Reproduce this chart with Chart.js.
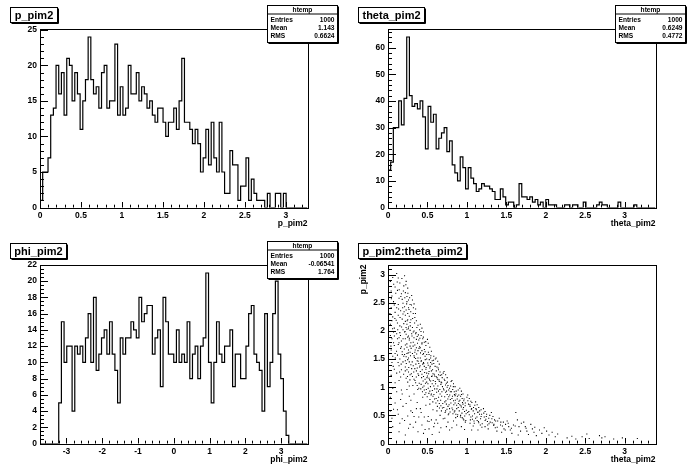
<!DOCTYPE html>
<html>
<head>
<meta charset="utf-8">
<script src="https://cdn.jsdelivr.net/npm/chart.js@4.4.1/dist/chart.umd.min.js"></script>
<style>
  html, body { margin: 0; padding: 0; background: #fff; }
  #wrap { position: relative; width: 696px; height: 472px; }
  #wrap canvas { position: absolute; }
</style>
</head>
<body>
<div id="wrap">
  <canvas id="pPad" width="348" height="236" style="left:0;top:0"></canvas>
  <canvas id="thetaPad" width="348" height="236" style="left:348px;top:0"></canvas>
  <canvas id="phiPad" width="348" height="236" style="left:0;top:236px"></canvas>
  <canvas id="scatterPad" width="348" height="236" style="left:348px;top:236px"></canvas>
</div>
<script>
// p_pim2 histogram, 100 bins
const pRange = [0, 3.265];
const pCounts = [
  1, 5, 5, 7, 13, 14, 20, 16, 19, 13,
  21, 20, 15, 19, 16, 11, 15, 18, 24, 18,
  16, 17, 14, 19, 20, 14, 15, 15, 23, 13,
  17, 13, 14, 20, 16, 16, 19, 15, 17, 16,
  14, 15, 13, 12, 14, 14, 12, 10, 12, 12,
  14, 11, 15, 21, 12, 12, 11, 9, 11, 9,
  5, 7, 11, 6, 12, 7, 5, 12, 5, 2,
  2, 8, 6, 6, 1, 3, 3, 7, 1, 4,
  2, 1, 1, 1, 0, 2, 0, 0, 2, 2,
  0, 2, 0, 0, 0, 0, 0, 0, 0, 0
];
const pTicks = [0, 0.5, 1, 1.5, 2, 2.5, 3];
const pCountTicks = [0, 5, 10, 15, 20, 25];
const pStats = ['1000', '1.143', '0.6624'];

// theta_pim2 histogram, 100 bins
const thetaRange = [0, 3.39];
const thetaCounts = [
  14, 17, 30, 30, 40, 31, 41, 64, 42, 38,
  39, 37, 40, 34, 22, 38, 32, 35, 22, 26,
  28, 30, 21, 25, 16, 13, 10, 19, 15, 7,
  15, 11, 9, 6, 7, 9, 8, 8, 7, 6,
  3, 3, 7, 4, 1, 2, 2, 0, 1, 9,
  4, 4, 3, 4, 2, 3, 1, 2, 0, 3,
  1, 1, 1, 0, 0, 0, 1, 1, 0, 1,
  1, 0, 0, 2, 0, 0, 0, 0, 1, 2,
  1, 1, 0, 0, 0, 0, 2, 0, 0, 0,
  0, 0, 1, 0, 0, 0, 0, 0, 0, 0
];
const thetaTicks = [0, 0.5, 1, 1.5, 2, 2.5, 3];
const thetaCountTicks = [0, 10, 20, 30, 40, 50, 60];
const thetaStats = ['1000', '0.6249', '0.4772'];

// phi_pim2 histogram, 100 bins
const phiRange = [-3.74, 3.74];
const phiCounts = [
  0, 0, 0, 0, 0, 0, 0, 5, 15, 10,
  12, 12, 4, 12, 11, 12, 10, 13, 16, 10,
  18, 9, 11, 13, 14, 11, 15, 11, 9, 5,
  13, 11, 13, 13, 15, 14, 13, 18, 15, 16,
  17, 17, 11, 13, 14, 7, 18, 15, 11, 11,
  10, 14, 10, 11, 10, 15, 8, 11, 12, 8,
  12, 13, 21, 10, 5, 10, 15, 11, 10, 12,
  12, 14, 7, 11, 11, 8, 8, 12, 16, 17,
  11, 10, 9, 4, 16, 7, 10, 16, 20, 11,
  8, 4, 1, 0, 0, 0, 0, 0, 0, 0
];
const phiTicks = [-3, -2, -1, 0, 1, 2, 3];
const phiCountTicks = [0, 2, 4, 6, 8, 10, 12, 14, 16, 18, 20, 22];
const phiStats = ['1000', '-0.06541', '1.764'];

// p_pim2 vs theta_pim2 scatter, [theta, p]
const scatterRangeX = [0, 3.39];
const scatterRangeY = [0, 3.18];
const scatterPoints = [
  [0.03,2.88],[0.05,2.62],[0.04,2.41],[0.06,2.25],[0.03,2.12],[0.07,1.98],[0.05,1.86],[0.08,1.74],[0.04,1.66],[0.06,1.55],
  [0.09,2.78],[0.07,2.52],[0.09,2.33],[0.08,2.05],[0.03,1.92],[0.05,1.44],[0.04,1.21],[0.06,0.98],[0.03,0.82],[0.07,0.61],
  [0.05,0.45],[0.08,1.32],[0.09,1.08],[0.06,2.95],[0.08,2.46],[0.04,2.71],[0.07,1.79],[0.09,1.6],[0.05,2.18],[0.06,0.3],
  [0.11,3.02],[0.13,2.94],[0.15,2.85],[0.12,2.72],[0.17,2.66],[0.14,2.58],[0.19,2.49],[0.11,2.41],[0.16,2.36],[0.13,2.28],
  [0.18,2.21],[0.12,2.14],[0.15,2.09],[0.19,2.02],[0.11,1.95],[0.14,1.88],[0.17,1.82],[0.13,1.76],[0.16,1.69],[0.18,1.63],
  [0.12,1.57],[0.15,1.5],[0.19,1.45],[0.14,1.38],[0.17,1.31],[0.11,1.25],[0.16,1.18],[0.18,2.56],[0.13,2.47],[0.19,2.3],
  [0.15,1.97],[0.12,1.86],[0.17,1.72],[0.14,1.12],[0.11,0.92],[0.16,0.78],[0.19,0.66],[0.13,0.52],[0.18,0.44],[0.15,0.36],
  [0.12,0.6],[0.17,0.95],[0.2,2.8],[0.2,2.13],[0.2,1.55],
  [0.21,2.98],[0.23,2.88],[0.25,2.76],[0.22,2.68],[0.24,2.61],[0.26,2.55],[0.28,2.47],[0.21,2.43],[0.23,2.37],[0.25,2.31],
  [0.27,2.26],[0.29,2.2],[0.22,2.17],[0.24,2.12],[0.26,2.07],[0.28,2.01],[0.21,1.98],[0.23,1.94],[0.25,1.89],[0.27,1.84],
  [0.29,1.79],[0.22,1.75],[0.24,1.71],[0.26,1.66],[0.28,1.62],[0.21,1.58],[0.23,1.54],[0.25,1.49],[0.27,1.45],[0.29,1.4],
  [0.22,1.36],[0.24,1.31],[0.26,1.27],[0.28,1.22],[0.23,1.16],[0.25,1.09],[0.27,1.02],[0.24,2.52],[0.26,2.41],[0.22,2.28],
  [0.28,2.15],[0.24,2.03],[0.26,1.91],[0.22,1.86],[0.28,1.73],[0.24,1.6],[0.26,1.52],[0.22,1.47],[0.24,0.96],[0.27,0.84],
  [0.23,0.71],[0.29,0.58],[0.25,0.49],[0.21,0.41],[0.28,0.34],[0.26,0.27],[0.3,2.63],[0.3,1.95],[0.3,1.33],[0.25,2.2],
  [0.31,2.55],[0.33,2.48],[0.35,2.39],[0.32,2.31],[0.34,2.24],[0.36,2.18],[0.38,2.1],[0.31,2.06],[0.33,2.0],[0.35,1.95],
  [0.37,1.9],[0.39,1.84],[0.32,1.8],[0.34,1.75],[0.36,1.7],[0.38,1.65],[0.31,1.6],[0.33,1.56],[0.35,1.51],[0.37,1.47],
  [0.39,1.42],[0.32,1.38],[0.34,1.33],[0.36,1.29],[0.38,1.24],[0.31,1.19],[0.33,1.14],[0.35,1.08],[0.37,1.03],[0.39,0.98],
  [0.36,1.85],[0.34,1.62],[0.38,1.52],[0.32,1.98],[0.4,2.02],[0.4,1.72],[0.4,1.36],[0.33,0.88],[0.37,0.73],[0.31,0.55],
  [0.39,0.47],[0.35,0.38],[0.32,0.29],[0.38,0.21],[0.36,0.62],
  [0.41,2.12],[0.43,2.05],[0.45,1.98],[0.42,1.92],[0.44,1.86],[0.46,1.8],[0.48,1.74],[0.41,1.7],[0.43,1.65],[0.45,1.6],
  [0.47,1.55],[0.49,1.5],[0.42,1.46],[0.44,1.41],[0.46,1.37],[0.48,1.32],[0.41,1.28],[0.43,1.23],[0.45,1.19],[0.47,1.14],
  [0.49,1.09],[0.42,1.05],[0.44,1.0],[0.46,0.95],[0.48,0.9],[0.43,1.77],[0.47,1.63],[0.45,1.44],[0.49,1.25],[0.41,1.52],
  [0.44,0.82],[0.48,0.68],[0.42,0.55],[0.46,0.47],[0.5,0.4],[0.43,0.33],[0.47,0.25],[0.45,0.18],[0.5,1.85],[0.5,1.2],
  [0.51,1.78],[0.53,1.71],[0.55,1.64],[0.52,1.58],[0.54,1.52],[0.56,1.47],[0.58,1.42],[0.51,1.39],[0.53,1.34],[0.55,1.29],
  [0.57,1.24],[0.59,1.2],[0.52,1.16],[0.54,1.11],[0.56,1.06],[0.58,1.02],[0.51,0.98],[0.53,0.93],[0.55,0.88],[0.57,0.84],
  [0.59,0.79],[0.54,1.44],[0.58,1.55],[0.52,1.28],[0.56,1.2],[0.6,1.5],[0.6,1.1],[0.53,0.7],[0.57,0.6],[0.51,0.48],
  [0.55,0.42],[0.59,0.36],[0.52,0.26],[0.56,0.16],[0.58,0.3],
  [0.61,1.52],[0.63,1.46],[0.65,1.41],[0.62,1.36],[0.64,1.31],[0.66,1.27],[0.68,1.22],[0.61,1.19],[0.63,1.14],[0.65,1.1],
  [0.67,1.05],[0.69,1.01],[0.62,0.97],[0.64,0.93],[0.66,0.88],[0.68,0.84],[0.61,0.8],[0.63,0.76],[0.65,0.71],[0.67,0.67],
  [0.69,0.63],[0.64,1.22],[0.68,1.08],[0.62,0.58],[0.66,0.5],[0.7,0.44],[0.63,0.36],[0.67,0.28],[0.65,0.2],[0.7,1.25],
  [0.71,1.28],[0.73,1.22],[0.75,1.17],[0.72,1.12],[0.74,1.07],[0.76,1.03],[0.78,0.98],[0.71,0.95],[0.73,0.91],[0.75,0.87],
  [0.77,0.83],[0.79,0.78],[0.72,0.74],[0.74,0.7],[0.76,0.66],[0.78,0.62],[0.73,0.58],[0.77,0.53],[0.75,1.0],[0.79,0.92],
  [0.72,0.45],[0.76,0.38],[0.74,0.3],[0.78,0.24],[0.8,1.1],
  [0.81,1.12],[0.83,1.06],[0.85,1.01],[0.82,0.96],[0.84,0.92],[0.86,0.88],[0.88,0.84],[0.81,0.8],[0.83,0.76],[0.85,0.72],
  [0.87,0.68],[0.89,0.64],[0.82,0.6],[0.84,0.56],[0.86,0.52],[0.88,0.48],[0.85,0.85],[0.89,0.95],[0.83,0.4],[0.87,0.33],
  [0.81,0.28],[0.9,0.75],
  [0.91,0.98],[0.93,0.93],[0.95,0.88],[0.92,0.84],[0.94,0.8],[0.96,0.76],[0.98,0.72],[0.91,0.69],[0.93,0.65],[0.95,0.61],
  [0.97,0.57],[0.99,0.53],[0.92,0.5],[0.94,0.46],[0.96,0.42],[0.98,0.38],[0.93,0.3],[0.97,0.25],[0.95,0.7],[1.0,0.82],
  [1.01,0.86],[1.03,0.8],[1.05,0.75],[1.02,0.7],[1.04,0.66],[1.06,0.62],[1.08,0.58],[1.01,0.55],[1.03,0.51],[1.05,0.47],
  [1.07,0.43],[1.09,0.4],[1.04,0.36],[1.08,0.31],[1.06,0.24],[1.1,0.68],
  [1.11,0.74],[1.13,0.69],[1.15,0.64],[1.12,0.6],[1.14,0.56],[1.16,0.52],[1.18,0.48],[1.11,0.45],[1.13,0.41],[1.15,0.37],
  [1.17,0.33],[1.19,0.29],[1.14,0.24],[1.18,0.6],
  [1.21,0.62],[1.23,0.57],[1.25,0.52],[1.22,0.47],[1.24,0.43],[1.26,0.39],[1.28,0.35],[1.23,0.3],[1.27,0.26],[1.29,0.5],
  [1.31,0.55],[1.33,0.48],[1.35,0.42],[1.32,0.37],[1.34,0.32],[1.36,0.28],[1.38,0.22],[1.39,0.4],
  [1.41,0.45],[1.43,0.38],[1.45,0.31],[1.47,0.26],[1.44,0.2],[1.49,0.34],
  [1.51,0.4],[1.53,0.3],[1.55,0.24],[1.57,0.18],[1.59,0.33],
  [1.62,0.55],[1.64,0.42],[1.66,0.3],[1.68,0.22],[1.65,0.15],[1.69,0.36],
  [1.72,0.38],[1.74,0.3],[1.76,0.22],[1.78,0.16],[1.75,0.27],
  [1.81,0.34],[1.83,0.26],[1.85,0.2],[1.88,0.14],[1.86,0.29],
  [1.92,0.24],[1.95,0.18],[1.98,0.28],
  [2.01,0.22],[2.04,0.15],[2.08,0.2],[2.12,0.12],[2.15,0.17],
  [2.27,0.1],[2.33,0.13],[2.38,0.08],[2.46,0.12],[2.52,0.17],[2.55,0.09],[2.68,0.14],[2.71,0.1],[2.75,0.12],[2.86,0.08],
  [2.97,0.1],[3.16,0.09],
  [0.024,2.31],[0.037,1.73],[0.043,2.57],[0.058,2.04],[0.066,1.37],[0.072,2.83],[0.081,1.91],[0.087,2.22],[0.093,1.52],[0.098,2.67],
  [0.104,2.19],[0.108,1.64],[0.117,2.87],[0.123,2.02],[0.128,1.44],[0.134,2.39],[0.139,1.79],[0.142,2.73],[0.147,1.27],[0.153,2.24],
  [0.158,1.92],[0.163,2.61],[0.167,1.41],[0.172,2.07],[0.176,2.93],[0.181,1.58],[0.186,2.41],[0.191,1.86],[0.195,2.71],[0.198,1.23],
  [0.204,2.34],[0.207,1.68],[0.213,2.59],[0.216,1.99],[0.219,1.29],[0.226,2.82],[0.229,2.06],[0.232,1.42],[0.236,2.48],[0.239,1.77],
  [0.243,2.18],[0.247,1.19],[0.252,2.67],[0.256,1.61],[0.259,2.04],[0.263,1.35],[0.266,2.38],[0.271,1.87],[0.274,2.59],[0.278,1.13],
  [0.282,2.09],[0.285,1.56],[0.288,2.34],[0.293,1.69],[0.296,1.24],[0.298,2.46],[0.304,1.91],[0.307,1.45],[0.312,2.22],[0.315,1.03],
  [0.318,1.73],[0.322,2.41],[0.326,1.27],[0.329,1.88],[0.334,1.53],[0.337,2.14],[0.342,1.12],[0.345,1.66],[0.348,2.31],[0.353,1.41],
  [0.356,1.97],[0.359,1.18],[0.363,1.59],[0.366,2.06],[0.371,1.34],[0.374,1.78],[0.377,0.96],[0.382,1.46],[0.385,1.93],[0.388,1.21],
  [0.393,1.69],[0.396,1.07],[0.404,1.87],[0.407,1.38],[0.412,1.61],[0.415,0.97],[0.418,1.99],[0.423,1.47],[0.426,1.17],[0.431,1.79],
  [0.434,1.31],[0.437,0.92],[0.442,1.58],[0.445,1.11],[0.448,1.89],[0.453,1.42],[0.456,1.02],[0.461,1.67],[0.464,1.26],[0.467,0.87],
  [0.472,1.49],[0.475,1.07],[0.478,1.81],[0.483,1.35],[0.486,0.96],[0.491,1.58],[0.494,1.17],[0.497,0.83],[0.503,1.43],[0.506,1.06],
  [0.512,1.62],[0.515,1.24],[0.518,0.89],[0.523,1.49],[0.526,1.13],[0.532,0.78],[0.535,1.37],[0.538,1.01],[0.543,1.56],[0.546,0.86],
  [0.552,1.19],[0.557,1.41],[0.562,0.94],[0.565,1.31],[0.568,0.74],[0.573,1.12],[0.577,1.48],[0.582,0.87],[0.586,1.23],[0.591,0.97],
  [0.597,1.37],[0.603,1.06],[0.607,0.72],[0.612,1.29],[0.616,0.91],[0.621,1.17],[0.626,0.66],[0.632,1.02],[0.636,1.34],[0.641,0.82],
  [0.647,1.13],[0.652,0.63],[0.657,0.96],[0.662,1.21],[0.667,0.77],[0.673,1.09],[0.677,0.58],[0.683,0.92],[0.687,1.17],[0.694,0.71],
  [0.703,0.97],[0.707,0.64],[0.713,1.14],[0.718,0.83],[0.724,0.55],[0.729,1.04],[0.734,0.76],[0.742,0.93],[0.747,0.61],[0.753,1.09],
  [0.758,0.79],[0.764,0.51],[0.769,0.95],[0.774,0.69],[0.782,0.86],[0.787,0.56],[0.793,1.02],[0.797,0.72],[0.804,0.92],[0.811,0.63],
  [0.817,0.84],[0.823,0.53],[0.828,1.01],[0.834,0.69],[0.842,0.87],[0.847,0.58],[0.853,0.77],[0.858,0.46],[0.864,0.93],[0.871,0.62],
  [0.877,0.79],[0.883,0.51],[0.892,0.71],[0.897,0.86],[0.903,0.58],[0.911,0.77],[0.918,0.47],[0.924,0.67],[0.931,0.87],[0.937,0.54],
  [0.944,0.73],[0.952,0.44],[0.957,0.64],[0.964,0.79],[0.972,0.49],[0.978,0.67],[0.986,0.41],[0.993,0.59],
  [1.012,0.76],[1.024,0.57],[1.037,0.69],[1.044,0.42],[1.056,0.61],[1.063,0.73],[1.071,0.49],[1.084,0.64],[1.093,0.36],[1.097,0.53],
  [1.114,0.62],[1.127,0.47],[1.138,0.55],[1.146,0.39],[1.162,0.58],[1.173,0.44],[1.186,0.52],[1.194,0.35],
  [1.214,0.54],[1.231,0.41],[1.246,0.48],[1.263,0.33],[1.277,0.45],[1.295,0.38],
  [1.316,0.44],[1.342,0.34],[1.364,0.4],[1.384,0.29],[1.426,0.33],[1.462,0.38],[1.486,0.24],[1.523,0.36],[1.564,0.27],[1.612,0.31],
  [0.14,0.21],[0.22,0.15],[0.33,0.48],[0.41,0.62],[0.52,0.39],[0.61,0.42],[0.29,0.77],[0.18,0.88],[0.09,0.72],[0.03,0.58]
];
const scatterTicks = [0, 0.5, 1, 1.5, 2, 2.5, 3];

const statLabels = ['Entries', 'Mean', 'RMS'];
const FONT = '"Liberation Sans", Arial, sans-serif';

function stepValues(min, max, step) {
    const out = [];
    const k0 = Math.ceil(min / step - 1e-6);
    const k1 = Math.floor(max / step + 1e-6);
    for (let k = k0; k <= k1; k++) out.push(k * step);
    return out;
}

function isMajor(list, v) {
    return list.some(m => Math.abs(m - v) < 1e-6);
}

// ROOT-like pad decorations: inner ticks, frame, title pave, stats box, axis titles
const rootPad = {
    id: 'rootPad',
    afterDraw(chart, args, o) {
        const { ctx, chartArea: a } = chart;
        const x = chart.scales.x, y = chart.scales.y;
        ctx.save();
        ctx.strokeStyle = '#000';
        ctx.fillStyle = '#000';
        ctx.lineWidth = 1;

        ctx.beginPath();
        stepValues(x.min, x.max, o.xMinor).forEach(v => {
            const px = Math.round(x.getPixelForValue(v)) + 0.5;
            ctx.moveTo(px, a.bottom);
            ctx.lineTo(px, a.bottom - (isMajor(o.xMajor, v) ? 5.5 : 2.8));
        });
        stepValues(y.min, y.max, o.yMinor).forEach(v => {
            const py = Math.round(y.getPixelForValue(v)) + 0.5;
            ctx.moveTo(a.left, py);
            ctx.lineTo(a.left + (isMajor(o.yMajor, v) ? 8 : 4), py);
        });
        ctx.stroke();

        ctx.strokeRect(Math.round(a.left) + 0.5, Math.round(a.top) + 0.5,
            Math.round(a.right - a.left), Math.round(a.bottom - a.top));

        // x axis title
        ctx.font = 'bold 8.5px ' + FONT;
        ctx.textAlign = 'right';
        ctx.textBaseline = 'middle';
        ctx.fillText(o.xTitle, a.right, 224);

        if (o.yTitle) {
            ctx.save();
            ctx.translate(16, a.top);
            ctx.rotate(-Math.PI / 2);
            ctx.textAlign = 'right';
            ctx.fillText(o.yTitle, 0, 0);
            ctx.restore();
        }

        // title pave
        ctx.font = 'bold 11px ' + FONT;
        const tw = ctx.measureText(o.title).width;
        const bx = 10.5, by = 7.5, bw = Math.round(tw + 8), bh = 15;
        ctx.fillStyle = '#fff';
        ctx.fillRect(bx, by, bw, bh);
        ctx.strokeRect(bx, by, bw, bh);
        ctx.beginPath();
        ctx.moveTo(bx + 1, by + bh + 1);
        ctx.lineTo(bx + bw + 1, by + bh + 1);
        ctx.lineTo(bx + bw + 1, by + 1);
        ctx.stroke();
        ctx.fillStyle = '#000';
        ctx.textAlign = 'center';
        ctx.fillText(o.title, bx + bw / 2, by + bh / 2 + 0.5);

        // stats box
        if (o.stats) {
            const sx = 267.5, sy = 5.5, sw = 70, sh = 37;
            ctx.fillStyle = '#fff';
            ctx.fillRect(sx, sy, sw, sh);
            ctx.strokeRect(sx, sy, sw, sh);
            ctx.beginPath();
            ctx.moveTo(sx + 1, sy + sh + 1);
            ctx.lineTo(sx + sw + 1, sy + sh + 1);
            ctx.lineTo(sx + sw + 1, sy + 1);
            ctx.moveTo(sx, sy + 8.5);
            ctx.lineTo(sx + sw, sy + 8.5);
            ctx.stroke();
            ctx.fillStyle = '#000';
            ctx.font = 'bold 6.6px ' + FONT;
            ctx.textAlign = 'center';
            ctx.fillText('htemp', sx + sw / 2, sy + 4.5);
            statLabels.forEach((lab, i) => {
                const ty = sy + 15 + i * 7.7;
                ctx.textAlign = 'left';
                ctx.fillText(lab, sx + 3, ty);
                ctx.textAlign = 'right';
                ctx.fillText(o.stats[i], sx + sw - 3, ty);
            });
        }
        ctx.restore();
    }
};

function axisOpts(range, ticks, fit) {
    return {
        type: 'linear',
        min: range[0],
        max: range[1],
        grid: { display: false, drawTicks: false },
        border: { display: false },
        afterFit: fit,
        afterBuildTicks: s => { s.ticks = ticks.map(v => ({ value: v })); },
        ticks: {
            font: { family: FONT, size: 8.5, weight: 'bold' },
            color: '#000',
            padding: 3,
            maxRotation: 0,
            autoSkip: false,
            callback: v => String(v)
        }
    };
}

function baseOptions(xScale, yScale, pad) {
    return {
        responsive: false,
        animation: false,
        events: [],
        layout: { padding: { top: 28.5, right: 40.5, left: 0, bottom: 0 } },
        plugins: { legend: { display: false }, tooltip: { enabled: false }, rootPad: pad },
        scales: { x: xScale, y: yScale }
    };
}

const fitX = s => { s.height = 28.5; };
const fitY = s => { s.width = 40; };

function drawHist(id, counts, range, xTicks, xMinor, yTicks, yMinor, title, xTitle, stats) {
    const w = (range[1] - range[0]) / counts.length;
    const pts = [{ x: range[0], y: 0 }];
    counts.forEach((c, i) => pts.push({ x: range[0] + i * w, y: c }));
    pts.push({ x: range[1], y: counts[counts.length - 1] });
    const yMax = Math.max(...counts) * 1.05;

    new Chart(document.getElementById(id), {
        type: 'line',
        data: {
            datasets: [{
                data: pts,
                stepped: true,
                borderColor: '#000',
                borderWidth: 1.2,
                pointRadius: 0,
                fill: false
            }]
        },
        options: baseOptions(
            axisOpts(range, xTicks, fitX),
            axisOpts([0, yMax], yTicks, fitY),
            { xMajor: xTicks, xMinor, yMajor: yTicks, yMinor, title, xTitle, stats }
        ),
        plugins: [rootPad]
    });
}

drawHist('pPad', pCounts, pRange, pTicks, 0.1, pCountTicks, 1, 'p_pim2', 'p_pim2', pStats);
drawHist('thetaPad', thetaCounts, thetaRange, thetaTicks, 0.1, thetaCountTicks, 2, 'theta_pim2', 'theta_pim2', thetaStats);
drawHist('phiPad', phiCounts, phiRange, phiTicks, 0.2, phiCountTicks, 0.5, 'phi_pim2', 'phi_pim2', phiStats);

new Chart(document.getElementById('scatterPad'), {
    type: 'scatter',
    data: {
        datasets: [{
            data: scatterPoints.map(([t, p]) => ({ x: t, y: p })),
            pointStyle: 'rect',
            pointRadius: 0.75,
            backgroundColor: '#000',
            borderWidth: 0
        }]
    },
    options: baseOptions(
        axisOpts(scatterRangeX, scatterTicks, fitX),
        axisOpts(scatterRangeY, scatterTicks, fitY),
        { xMajor: scatterTicks, xMinor: 0.1, yMajor: scatterTicks, yMinor: 0.1,
          title: 'p_pim2:theta_pim2', xTitle: 'theta_pim2', yTitle: 'p_pim2', stats: null }
    ),
    plugins: [rootPad]
});
</script>
</body>
</html>
